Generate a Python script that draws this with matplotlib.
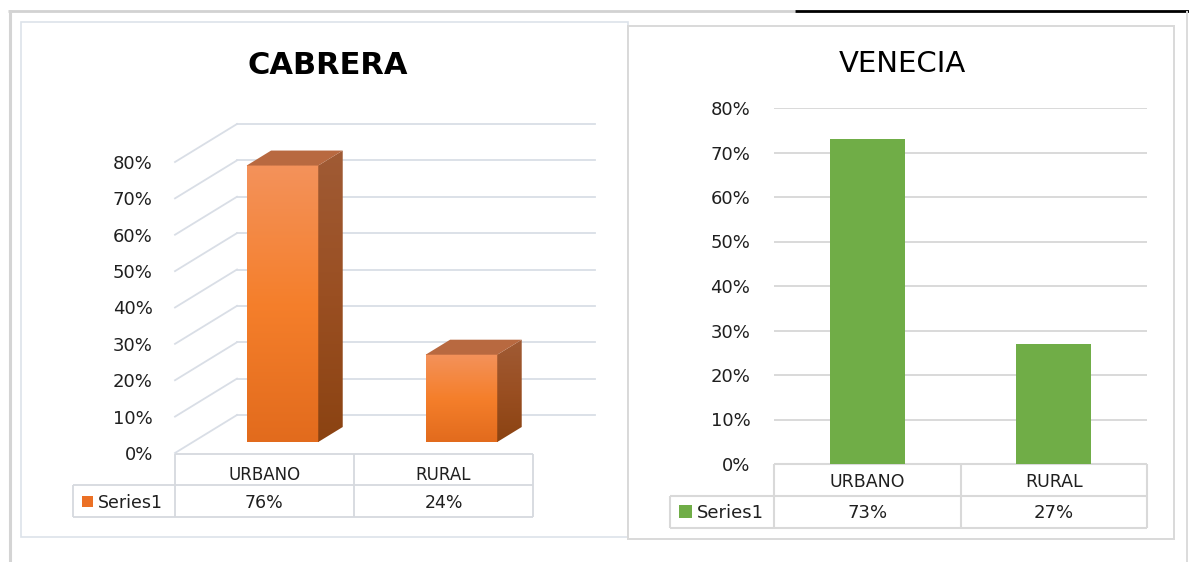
import numpy as np
import matplotlib
matplotlib.use("Agg")
import matplotlib.pyplot as plt
from matplotlib.patches import Rectangle, Polygon
from matplotlib.colors import LinearSegmentedColormap
from matplotlib import transforms

# ---------------- data ----------------
categories = ["URBANO", "RURAL"]
cabrera = [0.76, 0.24]
venecia = [0.73, 0.27]
yticks = [0.0, 0.1, 0.2, 0.3, 0.4, 0.5, 0.6, 0.7, 0.8]
series_name = "Series1"
title_left = "CABRERA"
title_right = "VENECIA"

plt.rcParams['font.family'] = ['DejaVu Sans']

W, H = 1189, 562
fig = plt.figure(figsize=(W / 100, H / 100), dpi=100)
fig.patch.set_facecolor("white")


def box(x0, y0, x1, y1):
    return [x0 / W, 1 - y1 / H, (x1 - x0) / W, (y1 - y0) / H]


def pct(v):
    return f"{int(round(v * 100))}%"


# background / decoration axes in pixel coordinates
bg = fig.add_axes([0, 0, 1, 1], zorder=0)
bg.set_xlim(0, W)
bg.set_ylim(H, 0)
bg.axis("off")

bg.plot([8, 795], [10.5, 10.5], color="#D2D2D2", lw=2, solid_capstyle="butt")
bg.plot([795, W], [10.5, 10.5], color="black", lw=2, solid_capstyle="butt")
bg.plot([10, 10], [10, H], color="#D4D4D4", lw=2.2, solid_capstyle="butt")
bg.plot([1187, 1187], [11, H], color="#DCDCDC", lw=1.4, solid_capstyle="butt")
bg.add_patch(Rectangle((21, 22), 607, 515, facecolor="white", edgecolor="#DDE3EA", lw=1.2))
bg.add_patch(Rectangle((628, 26), 546, 513, facecolor="white", edgecolor="#D9D9D9", lw=1.4))

bg.text(328, 73.5, title_left, ha="center", va="baseline", fontsize=22,
        fontweight="bold", color="black")
bg.text(902, 72, title_right, ha="center", va="baseline", fontsize=21,
        color="black")

TXT = "#1F1F1F"
TABLE = "#D6D9DE"

# ---------------- left chart: pseudo 3D column ----------------
FX0, FX1, FY0, FY1 = 175, 533, 162, 453  # front plane pixel box
axL = fig.add_axes(box(FX0, FY0, FX1, FY1), zorder=1)
axL.patch.set_visible(False)
ux = (FX1 - FX0) / 2.0
uy = (FY1 - FY0) / 0.8
dX, dY = 62 / ux, 38 / uy          # full floor depth
f0, fb = 11 / 38, 15 / 38          # bar front position / bar depth
ox, oy = dX * f0, dY * f0
bx, by = dX * fb, dY * fb

gridc = "#D9DEE6"
for v in yticks:
    axL.plot([0, dX], [v, v + dY], color=gridc, lw=1.3, clip_on=False, zorder=1)
    axL.plot([dX, 2 + dX], [v + dY, v + dY], color=gridc, lw=1.3, clip_on=False, zorder=1)

cm_front = LinearSegmentedColormap.from_list("f", ["#E26B1D", "#F57F2B", "#F3925B"])
cm_side = LinearSegmentedColormap.from_list("s", ["#8B4312", "#9A4F22", "#A05B35"])
grad = np.linspace(0, 1, 256).reshape(-1, 1)

for i, v in enumerate(cabrera):
    xl, xr = i + 0.3 + ox, i + 0.7 + ox
    y0, y1 = oy, v + oy
    im = axL.imshow(grad, extent=(xl, xr, y0, y1), origin="lower", aspect="auto",
                    cmap=cm_front, zorder=3, interpolation="bilinear")
    im.set_clip_box(fig.bbox)
    side = Polygon([(xr, y0), (xr + bx, y0 + by), (xr + bx, y1 + by), (xr, y1)],
                   closed=True, facecolor="none", edgecolor="none", zorder=3,
                   clip_on=False)
    axL.add_patch(side)
    ims = axL.imshow(grad, extent=(xr, xr + bx, y0, y1 + by), origin="lower",
                     aspect="auto", cmap=cm_side, zorder=3, interpolation="bilinear")
    ims.set_clip_box(fig.bbox)
    ims.set_clip_path(side)
    top = Polygon([(xl, y1), (xr, y1), (xr + bx, y1 + by), (xl + bx, y1 + by)],
                  closed=True, facecolor="#B86940", edgecolor="none", zorder=4,
                  clip_on=False)
    axL.add_patch(top)

axL.set_xlim(0, 2)
axL.set_ylim(0, 0.8)
axL.set_xticks([])
axL.set_yticks(yticks)
axL.set_yticklabels([pct(t) for t in yticks], fontsize=13, color=TXT)
axL.tick_params(axis="y", length=0, pad=16)
for s in axL.spines.values():
    s.set_visible(False)

# left data table
tL = transforms.blended_transform_factory(axL.transData, bg.transData)
xs = -0.57
kw = dict(color=TABLE, lw=1.3, transform=tL, clip_on=False, solid_capstyle="butt")
bg.plot([0, 2], [454, 454], **kw)
bg.plot([xs, 2], [485, 485], **kw)
bg.plot([xs, 2], [517, 517], **kw)
for x in range(len(categories) + 1):
    bg.plot([x, x], [454, 517], **kw)
bg.plot([xs, xs], [485, 517], **kw)
for i, (c, v) in enumerate(zip(categories, cabrera)):
    bg.text(i + 0.5, 480, c, transform=tL, ha="center", va="baseline", fontsize=12, color=TXT)
    bg.text(i + 0.5, 508, pct(v), transform=tL, ha="center", va="baseline", fontsize=12.5, color=TXT)
bg.add_patch(Rectangle((82, 496), 11, 11, facecolor="#EB7025", edgecolor="none"))
bg.text(98, 508, series_name, ha="left", va="baseline", fontsize=12.5, color=TXT)

# ---------------- right chart: flat column ----------------
axR = fig.add_axes(box(774, 108, 1147, 464), zorder=1)
axR.patch.set_visible(False)
axR.bar([i + 0.5 for i in range(len(categories))], venecia, width=0.4,
        color="#70AD47", zorder=3)
axR.set_xlim(0, 2)
axR.set_ylim(0, 0.8)
axR.set_xticks([])
axR.set_yticks(yticks)
axR.set_yticklabels([pct(t) for t in yticks], fontsize=13, color=TXT)
axR.tick_params(axis="y", length=0, pad=17)
axR.yaxis.grid(True, color="#D9D9D9", lw=1.4)
axR.set_axisbelow(True)
for s in axR.spines.values():
    s.set_visible(False)

tR = transforms.blended_transform_factory(axR.transData, bg.transData)
xs = -0.558
kw = dict(color="#D9D9D9", lw=1.5, transform=tR, clip_on=False, solid_capstyle="butt")
bg.plot([0, 2], [464, 464], **kw)
bg.plot([xs, 2], [496, 496], **kw)
bg.plot([xs, 2], [528, 528], **kw)
for x in range(len(categories) + 1):
    bg.plot([x, x], [464, 528], **kw)
bg.plot([xs, xs], [496, 528], **kw)
for i, (c, v) in enumerate(zip(categories, venecia)):
    bg.text(i + 0.5, 487, c, transform=tR, ha="center", va="baseline", fontsize=12.5, color=TXT)
    bg.text(i + 0.5, 518, pct(v), transform=tR, ha="center", va="baseline", fontsize=13, color=TXT)
bg.add_patch(Rectangle((679, 505), 13, 13, facecolor="#70AD47", edgecolor="none"))
bg.text(697, 518, series_name, ha="left", va="baseline", fontsize=13, color=TXT)

fig.savefig("out.png", dpi=100, facecolor="white")
